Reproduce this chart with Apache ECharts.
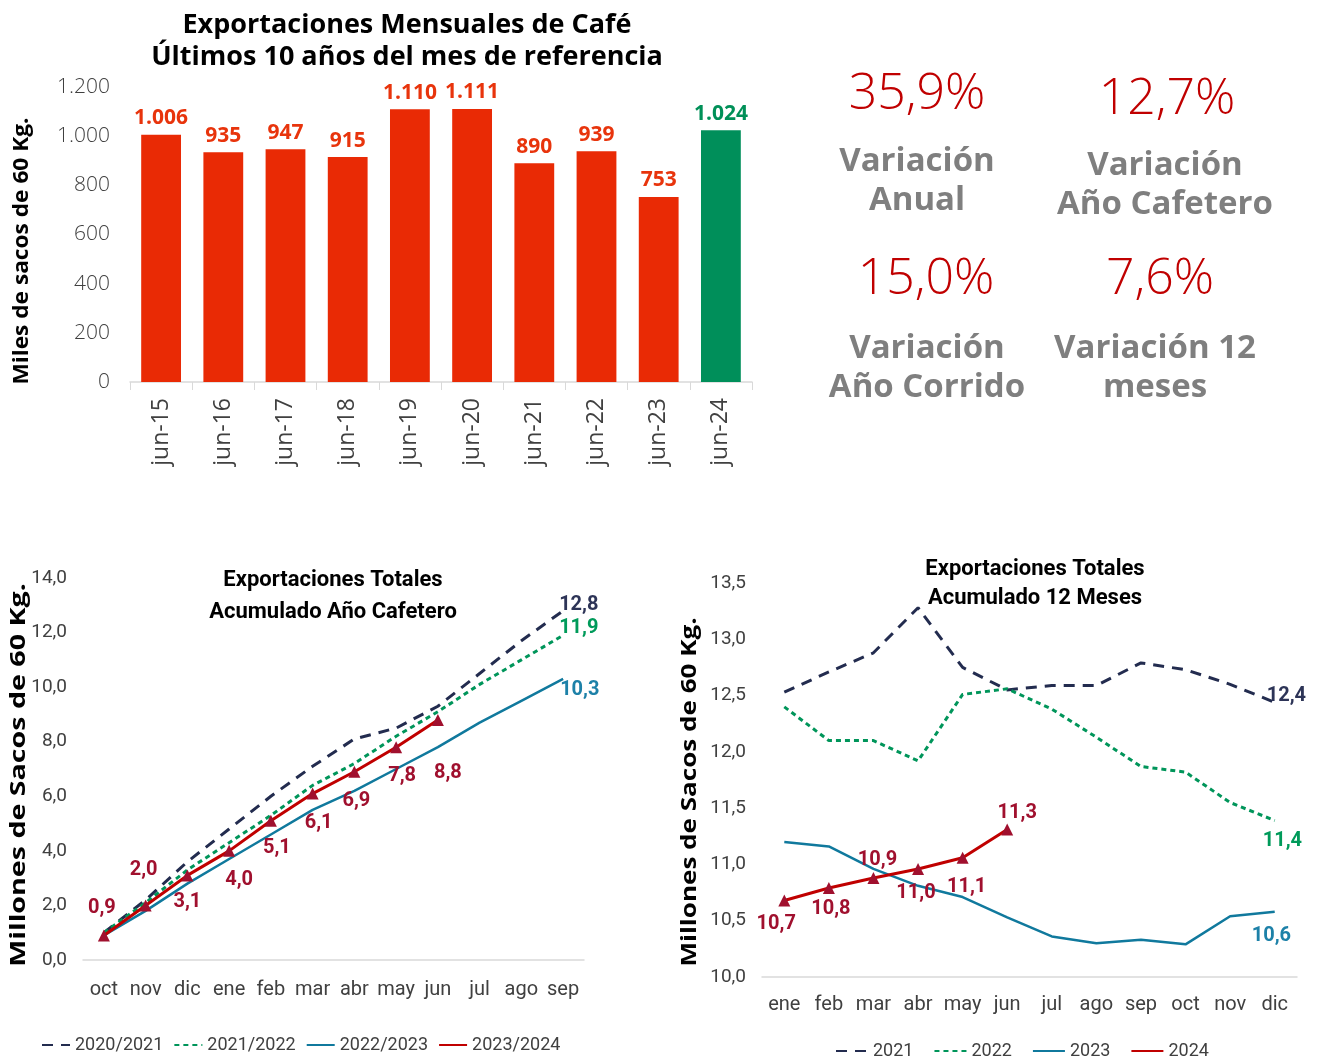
<!DOCTYPE html>
<html><head><meta charset="utf-8">
<script src="https://cdn.jsdelivr.net/npm/echarts@6/dist/echarts.min.js"></script>
<style>html,body{margin:0;padding:0;background:#fff}#c{width:1317px;height:1057px}</style>
</head><body><div id="c"></div>
<script>
// ---------- DATA ----------
const barCategories = ['jun-15','jun-16','jun-17','jun-18','jun-19','jun-20','jun-21','jun-22','jun-23','jun-24'];
const barValues = [1006, 935, 947, 915, 1110, 1111, 890, 939, 753, 1024];
const barTicks = [0, 200, 400, 600, 800, 1000, 1200];

const cafMonths = ['oct','nov','dic','ene','feb','mar','abr','may','jun','jul','ago','sep'];
const caf2020_2021 = [1.0, 2.2, 3.6, 4.8, 6.0, 7.1, 8.1, 8.5, 9.3, 10.5, 11.7, 12.8];
const caf2021_2022 = [1.0, 2.1, 3.3, 4.3, 5.3, 6.4, 7.2, 8.2, 9.1, 10.1, 11.0, 11.9];
const caf2022_2023 = [0.9, 1.8, 2.8, 3.7, 4.6, 5.5, 6.2, 7.0, 7.8, 8.7, 9.5, 10.3];
const caf2023_2024 = [0.9, 2.0, 3.1, 4.0, 5.1, 6.1, 6.9, 7.8, 8.8];

const calMonths = ['ene','feb','mar','abr','may','jun','jul','ago','sep','oct','nov','dic'];
const m2021 = [12.53, 12.71, 12.88, 13.28, 12.75, 12.55, 12.59, 12.59, 12.79, 12.73, 12.60, 12.44];
const m2022 = [12.40, 12.10, 12.10, 11.92, 12.51, 12.56, 12.38, 12.13, 11.87, 11.82, 11.55, 11.39];
const m2023 = [11.20, 11.16, 10.96, 10.81, 10.71, 10.53, 10.36, 10.30, 10.33, 10.29, 10.54, 10.58];
const m2024 = [10.68, 10.79, 10.88, 10.96, 11.06, 11.31];

const kpiValues = ['35,9%', '12,7%', '15,0%', '7,6%'];
const kpiLabels = ['Variación\nAnual', 'Variación\nAño Cafetero', 'Variación\nAño Corrido', 'Variación 12\nmeses'];

// ---------- STYLE ----------
const RED_BAR = '#e92a05', GREEN_BAR = '#008f5a';
const NAVY = '#232c4f', GREEN = '#00955a', BLUE = '#10799d', RED = '#c00000', MARK = '#a0102e';
const WIDE = "'Open Sans', 'Noto Sans', sans-serif";
const NARROW = "Roboto, 'Liberation Sans', sans-serif";
const fmtThousands = v => String(v).replace(/\B(?=(\d{3})+(?!\d))/g, '.');
const fmt1 = v => Number(v).toFixed(1).replace('.', ',');

const chart = echarts.init(document.getElementById('c'), null, {renderer: 'canvas'});

const lastIdx = barValues.length - 1;
const barData = barValues.map((v, i) => ({
  value: v,
  itemStyle: {color: i === lastIdx ? GREEN_BAR : RED_BAR},
  label: {color: i === lastIdx ? '#009058' : '#e8340c'}
}));

// label placements for red series (style only)
const cafRedPos = [['top',[-2,-6]],['top',[-2,-14]],['bottom',[0,6]],['bottom',[10,8]],['bottom',[6,6]],['bottom',[6,8]],['bottom',[2,8]],['bottom',[6,8]],['bottom',[10,32]]];
const calRedPos = [['bottom',[-8,3]],['bottom',[2,0]],['top',[4,3]],['bottom',[-2,3]],['bottom',[4,8]],['top',[10,4]]];

function redData(vals, pos) {
  return vals.map((v, i) => ({
    value: v,
    label: {show: true, position: pos[i][0], offset: pos[i][1]}
  }));
}
function endLab(color, offset) {
  return {show: true, offset: offset, distance: 2, color: color, fontFamily: NARROW, fontWeight: 'bold', fontSize: 20, formatter: p => fmt1(p.value)};
}

const kpiPos = [[917, 95, 917, 181], [1167, 100, 1165, 185], [926, 280, 927, 368], [1160, 280, 1155, 368]];
const graphics = [];
kpiValues.forEach((t, i) => {
  const p = kpiPos[i];
  graphics.push({type: 'text', x: p[0], y: p[1], style: {text: t, fill: '#c00000', font: '300 50px ' + WIDE, textAlign: 'center', textVerticalAlign: 'middle'}});
  graphics.push({type: 'text', x: p[2], y: p[3], style: {text: kpiLabels[i], fill: '#7f7f7f', font: 'bold 33px ' + WIDE, textAlign: 'center', textVerticalAlign: 'middle', lineHeight: 39}});
});
graphics.push({type: 'text', x: 22, y: 251, rotation: Math.PI / 2, scaleX: 1.08, style: {text: 'Miles de sacos de 60 Kg.', fill: '#000', font: 'bold 21px ' + WIDE, textAlign: 'center', textVerticalAlign: 'middle'}});
graphics.push({type: 'text', x: 19, y: 775, rotation: Math.PI / 2, scaleX: 1.3, style: {text: 'Millones de Sacos de 60 Kg.', fill: '#000', font: 'bold 22px ' + WIDE, textAlign: 'center', textVerticalAlign: 'middle'}});
graphics.push({type: 'text', x: 690, y: 792, rotation: Math.PI / 2, scaleX: 1.24, style: {text: 'Millones de Sacos de 60 Kg.', fill: '#000', font: 'bold 21px ' + WIDE, textAlign: 'center', textVerticalAlign: 'middle'}});

const legendText = {fontFamily: NARROW, fontSize: 18, color: '#404040'};
const option = {
  backgroundColor: '#fff',
  animation: false,
  title: [
    {text: 'Exportaciones Mensuales de Café\nÚltimos 10 años del mes de referencia', left: 402, top: 4, textAlign: 'center',
     textStyle: {fontFamily: WIDE, fontWeight: 'bold', fontSize: 27, lineHeight: 32, color: '#000'}},
    {text: 'Exportaciones Totales\nAcumulado Año Cafetero', left: 328, top: 559, textAlign: 'center',
     textStyle: {fontFamily: NARROW, fontWeight: 'bold', fontSize: 22, lineHeight: 32, color: '#000'}},
    {text: 'Exportaciones Totales\nAcumulado 12 Meses', left: 1030, top: 550, textAlign: 'center',
     textStyle: {fontFamily: NARROW, fontWeight: 'bold', fontSize: 22, lineHeight: 29, color: '#000'}}
  ],
  legend: [
    {data: ['2020/2021','2021/2022','2022/2023','2023/2024'], left: 36, top: 1031, itemWidth: 28, itemHeight: 8, itemGap: 10,
     itemStyle: {opacity: 0}, textStyle: legendText},
    {data: ['2021','2022','2023','2024'], left: 830, top: 1037, itemWidth: 32, itemHeight: 8, itemGap: 20,
     itemStyle: {opacity: 0}, textStyle: legendText}
  ],
  graphic: graphics,
  grid: [
    {left: 130, right: 565, top: 87, bottom: 675, containLabel: false},
    {left: 83, right: 733, top: 578, bottom: 97, containLabel: false},
    {left: 762, right: 20, top: 583, bottom: 80, containLabel: false}
  ],
  xAxis: [
    {gridIndex: 0, type: 'category', data: barCategories,
     axisLine: {lineStyle: {color: '#d9d9d9', width: 1.5}}, axisTick: {show: true, length: 8, lineStyle: {color: '#d9d9d9'}},
     axisLabel: {interval: 0, rotate: 90, margin: 16, fontFamily: WIDE, fontSize: 23, color: '#404040'}},
    {gridIndex: 1, type: 'category', data: cafMonths,
     axisLine: {lineStyle: {color: '#d9d9d9', width: 1.5}}, axisTick: {show: false},
     axisLabel: {interval: 0, margin: 20, fontFamily: NARROW, fontSize: 20, color: '#404040'}},
    {gridIndex: 2, type: 'category', data: calMonths,
     axisLine: {lineStyle: {color: '#d9d9d9', width: 1.5}}, axisTick: {show: false},
     axisLabel: {interval: 0, margin: 18, fontFamily: NARROW, fontSize: 20, color: '#404040'}}
  ],
  yAxis: [
    {gridIndex: 0, type: 'value', min: barTicks[0], max: barTicks[barTicks.length - 1], interval: 200,
     splitLine: {show: false}, axisLine: {show: false}, axisTick: {show: false},
     axisLabel: {margin: 20, fontFamily: WIDE, fontWeight: 300, fontSize: 21, color: '#404040', formatter: v => fmtThousands(v)}},
    {gridIndex: 1, type: 'value', min: 0, max: 14, interval: 2,
     splitLine: {show: false}, axisLine: {show: false}, axisTick: {show: false},
     axisLabel: {margin: 16, fontFamily: NARROW, fontSize: 19, color: '#404040', formatter: v => fmt1(v)}},
    {gridIndex: 2, type: 'value', min: 10, max: 13.5, interval: 0.5,
     splitLine: {show: false}, axisLine: {show: false}, axisTick: {show: false},
     axisLabel: {margin: 16, fontFamily: NARROW, fontSize: 19, color: '#404040', formatter: v => fmt1(v)}}
  ],
  series: [
    {name: 'bar', type: 'bar', xAxisIndex: 0, yAxisIndex: 0, barWidth: '64%', data: barData,
     label: {show: true, position: 'top', distance: 6, fontFamily: WIDE, fontWeight: 'bold', fontSize: 21, formatter: p => fmtThousands(p.value)}},

    {name: '2020/2021', type: 'line', xAxisIndex: 1, yAxisIndex: 1, symbol: 'none', data: caf2020_2021,
     endLabel: endLab('#2d3457', [-6, -6]),
     lineStyle: {color: NAVY, width: 3, type: [11, 8]}, itemStyle: {color: NAVY}},
    {name: '2021/2022', type: 'line', xAxisIndex: 1, yAxisIndex: 1, symbol: 'none', data: caf2021_2022,
     endLabel: endLab('#009a5a', [-6, -7]),
     lineStyle: {color: GREEN, width: 3, type: [5, 4]}, itemStyle: {color: GREEN}},
    {name: '2022/2023', type: 'line', xAxisIndex: 1, yAxisIndex: 1, symbol: 'none', data: caf2022_2023,
     endLabel: endLab('#1d81a8', [-5, 11]),
     lineStyle: {color: BLUE, width: 2.5}, itemStyle: {color: BLUE}},
    {name: '2023/2024', type: 'line', xAxisIndex: 1, yAxisIndex: 1, symbol: 'triangle', symbolSize: 12, data: redData(caf2023_2024, cafRedPos),
     lineStyle: {color: RED, width: 3}, itemStyle: {color: MARK},
     label: {fontFamily: NARROW, fontWeight: 'bold', fontSize: 20, color: MARK, formatter: p => fmt1(p.value)}},

    {name: '2021', type: 'line', xAxisIndex: 2, yAxisIndex: 2, symbol: 'none', data: m2021,
     endLabel: endLab('#2d3457', [-10, -6]),
     lineStyle: {color: NAVY, width: 3, type: [11, 8]}, itemStyle: {color: NAVY}},
    {name: '2022', type: 'line', xAxisIndex: 2, yAxisIndex: 2, symbol: 'none', data: m2022,
     endLabel: endLab('#009a5a', [-14, 20]),
     lineStyle: {color: GREEN, width: 3, type: [5, 4]}, itemStyle: {color: GREEN}},
    {name: '2023', type: 'line', xAxisIndex: 2, yAxisIndex: 2, symbol: 'none', data: m2023,
     endLabel: endLab('#1d81a8', [-25, 24]),
     lineStyle: {color: BLUE, width: 2.5}, itemStyle: {color: BLUE}},
    {name: '2024', type: 'line', xAxisIndex: 2, yAxisIndex: 2, symbol: 'triangle', symbolSize: 12, data: redData(m2024, calRedPos),
     lineStyle: {color: RED, width: 3}, itemStyle: {color: MARK},
     label: {fontFamily: NARROW, fontWeight: 'bold', fontSize: 20, color: MARK, formatter: p => fmt1(p.value)}}
  ]
};
chart.setOption(option);
</script>
</body></html>
